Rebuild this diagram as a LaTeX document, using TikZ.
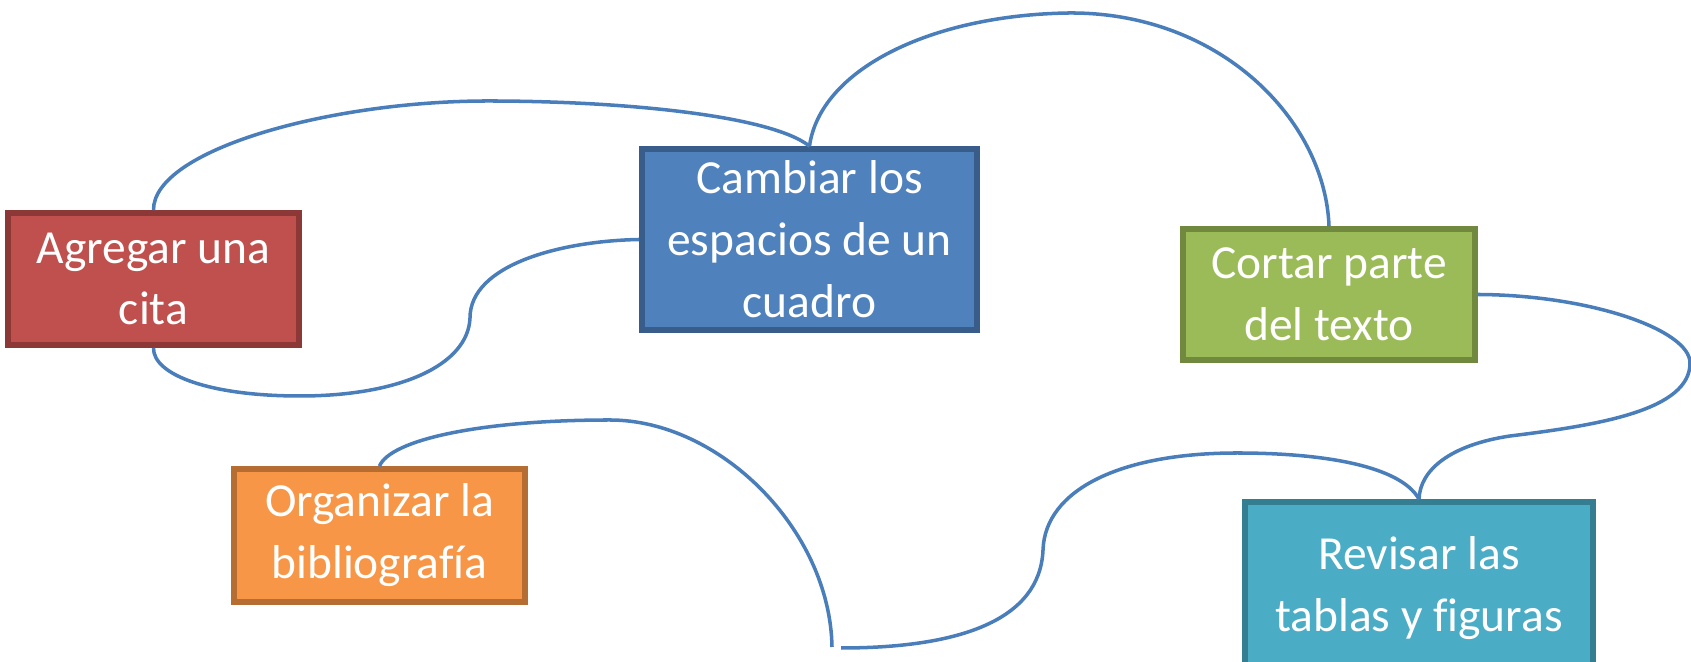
\documentclass[tikz,border=0pt]{standalone}
\usepackage{fontspec}
\setmainfont[Ligatures=NoCommon]{Carlito}
\definecolor{rojo}{HTML}{C0504D}
\definecolor{rojoB}{HTML}{8C3836}
\definecolor{azul}{HTML}{4F81BD}
\definecolor{azulB}{HTML}{385D8A}
\definecolor{verde}{HTML}{9BBB59}
\definecolor{verdeB}{HTML}{71893F}
\definecolor{naranja}{HTML}{F79646}
\definecolor{naranjaB}{HTML}{B66D31}
\definecolor{celeste}{HTML}{4BACC6}
\definecolor{celesteB}{HTML}{357D91}
\definecolor{linea}{HTML}{4A7EBB}

\begin{document}
\begin{tikzpicture}[x=0.01cm,y=-0.01cm,
        box/.style={
            draw,
            line width=1.6pt,
            inner sep=0pt,
            align=center,
            text=white,
            font=\fontsize{13.5}{17.6}\selectfont
        },
        link/.style={
            draw=linea,
            line width=1pt
        }
    ]
    \useasboundingbox (0,0) rectangle (1691,662);

    \node[box,fill=rojo,draw=rojoB,minimum width=2.91cm,minimum height=1.32cm]
      (cita) at (153.5,279) {Agregar una\\cita};
    \node[box,fill=azul,draw=azulB,minimum width=3.35cm,minimum height=1.81cm]
      (espacios) at (809.5,239.5) {Cambiar los\\espacios de un\\cuadro};
    \node[box,fill=verde,draw=verdeB,minimum width=2.92cm,minimum height=1.31cm]
      (cortar) at (1329,294.5) {Cortar parte\\del texto};
    \node[box,fill=naranja,draw=naranjaB,minimum width=2.91cm,minimum height=1.33cm]
      (biblio) at (379.5,535.5) {Organizar la\\bibliografía};
    \node[box,fill=celeste,draw=celesteB,minimum width=3.48cm,minimum height=1.72cm]
      (tablas) at (1419,588) {Revisar las\\tablas y figuras};

    % loose ends at the bottom
    \coordinate (finI) at (832,647);
    \coordinate (finD) at (841,648);

    \draw[link] (cita.north) .. controls (153,150) and (330,101) .. (488,101)
      .. controls (620,101) and (770,115) .. (espacios.north);
    \draw[link] (espacios.north) .. controls (820,70) and (930,15) .. (1069,13)
      .. controls (1220,12) and (1325,120) .. (cortar.north);
    \draw[link] (espacios.west) .. controls (560,241) and (470,265) .. (470,318)
      .. controls (468,365) and (400,396) .. (300,396)
      .. controls (210,396) and (153,375) .. (cita.south);
    \draw[link] (cortar.east) .. controls (1590,295) and (1690,330) .. (1690,363)
      .. controls (1690,410) and (1600,425) .. (1510,436)
      .. controls (1450,445) and (1420,470) .. (tablas.north);
    \draw[link] (tablas.north) .. controls (1400,465) and (1320,453) .. (1237,453)
      .. controls (1120,453) and (1045,490) .. (1043,550)
      .. controls (1040,620) and (960,648) .. (finD);
    \draw[link] (biblio.north) .. controls (390,440) and (480,420) .. (610,420)
      .. controls (720,420) and (830,530) .. (finI);
\end{tikzpicture}
\end{document}
